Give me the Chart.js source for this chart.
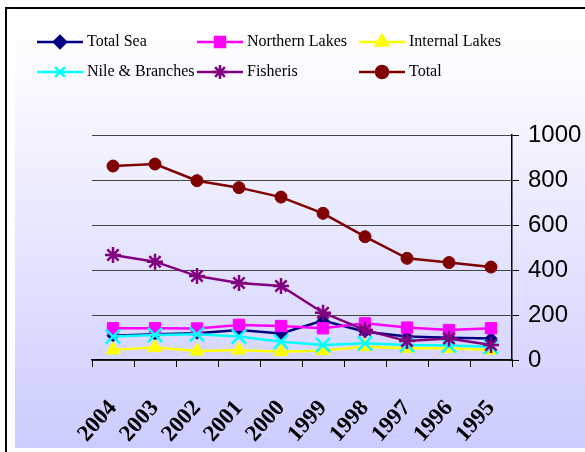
<!DOCTYPE html>
<html>
<head>
<meta charset="utf-8">
<script src="https://cdn.jsdelivr.net/npm/chart.js@4.4.0/dist/chart.umd.min.js"></script>
<style>
    html, body { margin: 0; padding: 0; background: #fff; }
    #wrap { position: relative; width: 585px; height: 452px; }
</style>
</head>
<body>
<div id="wrap"><canvas id="fishChart" width="585" height="452"></canvas></div>
<script>
// Chart data
const years = ["2004", "2003", "2002", "2001", "2000", "1999", "1998", "1997", "1996", "1995"];
const totalSea = [108, 114, 119, 133, 118, 175, 126, 104, 99, 96];
const northernLakes = [141, 141, 140, 156, 151, 141, 163, 144, 133, 141];
const internalLakes = [45, 55, 40, 44, 37, 42, 59, 52, 52, 44];
const nileBranches = [104, 111, 114, 104, 81, 67, 74, 67, 64, 59];
const fisheris = [467, 437, 373, 342, 329, 210, 133, 84, 96, 67];
const total = [862, 871, 797, 766, 724, 652, 548, 452, 433, 413];
const yTicks = [0, 200, 400, 600, 800, 1000];

document.addEventListener("DOMContentLoaded", () => {
    const ctx = document.getElementById("fishChart").getContext("2d");

    function series(label, data, color, style, radius, idx) {
        return {
            label: label,
            data: data,
            borderColor: color,
            backgroundColor: color,
            pointBackgroundColor: color,
            pointBorderColor: color,
            pointStyle: style,
            pointRadius: radius,
            pointHoverRadius: radius,
            pointBorderWidth: (style === "crossRot" || style === "star") ? 2.5 : 1,
            borderWidth: 2.5,
            tension: 0,
            order: 6 - idx
        };
    }

    const datasets = [
        series("Total Sea", totalSea, "#000080", "rectRot", 6, 0),
        series("Northern Lakes", northernLakes, "#FF00FF", "rect", 8, 1),
        series("Internal Lakes", internalLakes, "#FFFF00", "triangle", 8, 2),
        series("Nile & Branches", nileBranches, "#00FFFF", "crossRot", 10, 3),
        series("Fisheris", fisheris, "#800080", "star", 8, 4),
        series("Total", total, "#800000", "circle", 6, 5)
    ];

    // Frame and lavender gradient behind everything
    const backdrop = {
        id: "backdrop",
        beforeDraw(chart) {
            const c = chart.ctx;
            c.save();
            c.fillStyle = "#ffffff";
            c.fillRect(0, 0, chart.width, chart.height);
            const g = c.createLinearGradient(0, 9, 0, 448);
            g.addColorStop(0, "#ffffff");
            g.addColorStop(0.15, "#fbfbff");
            g.addColorStop(1, "#ccccff");
            c.fillStyle = g;
            c.fillRect(15, 9, chart.width - 15, 439);
            c.fillStyle = "#000";
            c.fillRect(5, 7, 2, chart.height - 7);
            c.fillRect(5, 7, chart.width - 5, 2);
            c.restore();
        }
    };

    // Legend in three fixed columns, like the original
    const gridLegend = {
        id: "gridLegend",
        afterDraw(chart) {
            const c = chart.ctx;
            const cols = [37, 197, 359];
            const rows = [42, 72];
            c.save();
            chart.data.datasets.forEach((ds, i) => {
                const x = cols[i % 3];
                const y = rows[Math.floor(i / 3)];
                c.strokeStyle = ds.borderColor;
                c.lineWidth = 2.5;
                c.beginPath();
                c.moveTo(x, y);
                c.lineTo(x + 46, y);
                c.stroke();
                c.fillStyle = ds.backgroundColor;
                Chart.helpers.drawPoint(c, {
                    pointStyle: ds.pointStyle,
                    radius: Math.min(ds.pointRadius, 7),
                    borderWidth: ds.pointBorderWidth,
                    rotation: 0
                }, x + 23, y);
                c.fillStyle = "#000";
                c.font = "16px 'Liberation Serif', serif";
                c.textBaseline = "middle";
                c.textAlign = "left";
                c.fillText(ds.label, x + 50, y);
            });
            c.restore();
        }
    };

    new Chart(ctx, {
        type: "line",
        data: { labels: years, datasets: datasets },
        options: {
            responsive: false,
            animation: false,
            events: [],
            layout: { padding: { left: 92, top: 135, right: 0, bottom: 0 } },
            plugins: {
                legend: { display: false },
                tooltip: { enabled: false }
            },
            scales: {
                x: {
                    offset: true,
                    grid: {
                        offset: true,
                        drawOnChartArea: false,
                        drawTicks: true,
                        tickLength: 7,
                        tickColor: "#000"
                    },
                    border: { color: "#000", width: 1.5 },
                    ticks: {
                        minRotation: 48,
                        maxRotation: 48,
                        padding: 28,
                        color: "#000",
                        font: { family: "'Liberation Serif', serif", size: 23, weight: "bold" }
                    },
                    afterFit: scale => { scale.height = 92; }
                },
                y: {
                    position: "right",
                    min: 0,
                    max: 1000,
                    afterBuildTicks: scale => { scale.ticks = yTicks.map(v => ({ value: v })); },
                    grid: {
                        color: "#454545",
                        lineWidth: 1,
                        tickLength: 7,
                        tickColor: "#000"
                    },
                    border: { color: "#000", width: 1.5 },
                    ticks: {
                        padding: 9,
                        color: "#000",
                        callback: v => String(v),
                        font: { family: "'Liberation Sans', Arial, sans-serif", size: 24 }
                    },
                    afterFit: scale => { scale.width = 73; }
                }
            }
        },
        plugins: [backdrop, gridLegend]
    });
});
</script>
</body>
</html>
